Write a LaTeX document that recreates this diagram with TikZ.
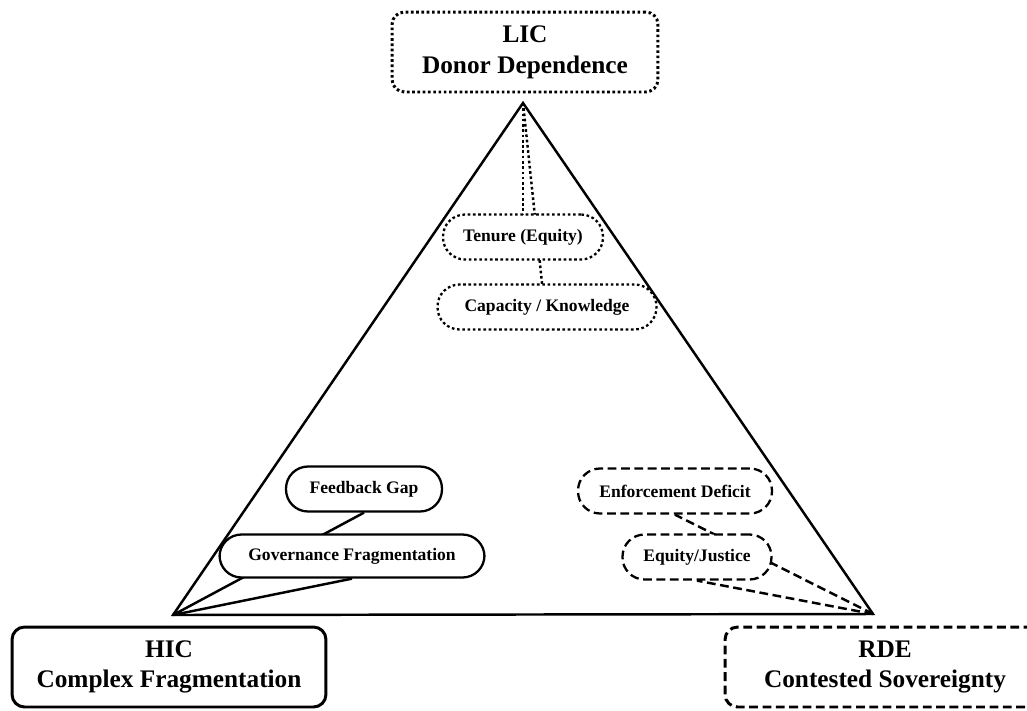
\documentclass[tikz,border=0pt]{standalone}
\usepackage{fontspec}
\setmainfont{Liberation Serif}
\usetikzlibrary{backgrounds}

\begin{document}
\begin{tikzpicture}[
  x=0.02cm, y=-0.02cm,
  corner/.style={draw, line width=1.7pt, rounded corners=0.25cm, fill=white,
                 align=center, minimum height=1.6cm,
                 font=\fontsize{14.4}{17.5}\selectfont\bfseries},
  sub/.style={draw, line width=1.3pt, rounded corners=0.44cm, fill=white,
              minimum height=0.9cm, inner sep=0pt,
              font=\fontsize{10}{12}\selectfont\bfseries},
  dotline/.style={dash pattern=on 1.5pt off 1.5pt},
  dashline/.style={dash pattern=on 5pt off 2.6pt},
  link/.style={line width=1.4pt}
]
\useasboundingbox (0,0) rectangle (1027,710);

% corners of the triangle
\coordinate (apex)  at (523,103);
\coordinate (lbase) at (173,615);
\coordinate (rbase) at (873,614);

% regime boxes
\node[corner, dotline, minimum width=5.32cm] (lic) at (525,52) {LIC\\Donor Dependence};
\node[corner, minimum width=6.28cm] (hic) at (169,667) {HIC\\Complex Fragmentation};
\node[corner, dashline, minimum width=6.4cm] (rde) at (885,667) {RDE\\Contested Sovereignty};

% barriers
\node[sub, dotline, minimum width=3.2cm]  (tenure)   at (523,237) {Tenure (Equity)};
\node[sub, dotline, minimum width=4.38cm] (capacity) at (547,307) {Capacity / Knowledge};
\node[sub, minimum width=3.12cm] (feedback) at (364,489) {Feedback Gap};
\node[sub, minimum width=5.3cm, minimum height=0.86cm] (govern) at (352,556) {Governance Fragmentation};
\node[sub, dashline, minimum width=3.88cm] (enforce) at (675,491) {Enforcement Deficit};
\node[sub, dashline, minimum width=2.98cm] (justice) at (697,557) {Equity/Justice};

\begin{scope}[on background layer]
\draw[link] (apex) -- (lbase) -- (rbase) -- cycle;
\draw[link, dotline] (apex) -- (tenure.south);
\draw[link, dotline] (apex) -- (capacity.south);
\draw[link] (lbase) -- (govern.south);
\draw[link] (lbase) -- (feedback.south);
\draw[link, dashline] (rbase) -- (enforce.south);
\draw[link, dashline] (rbase) -- (justice.south);
\end{scope}
\end{tikzpicture}
\end{document}
